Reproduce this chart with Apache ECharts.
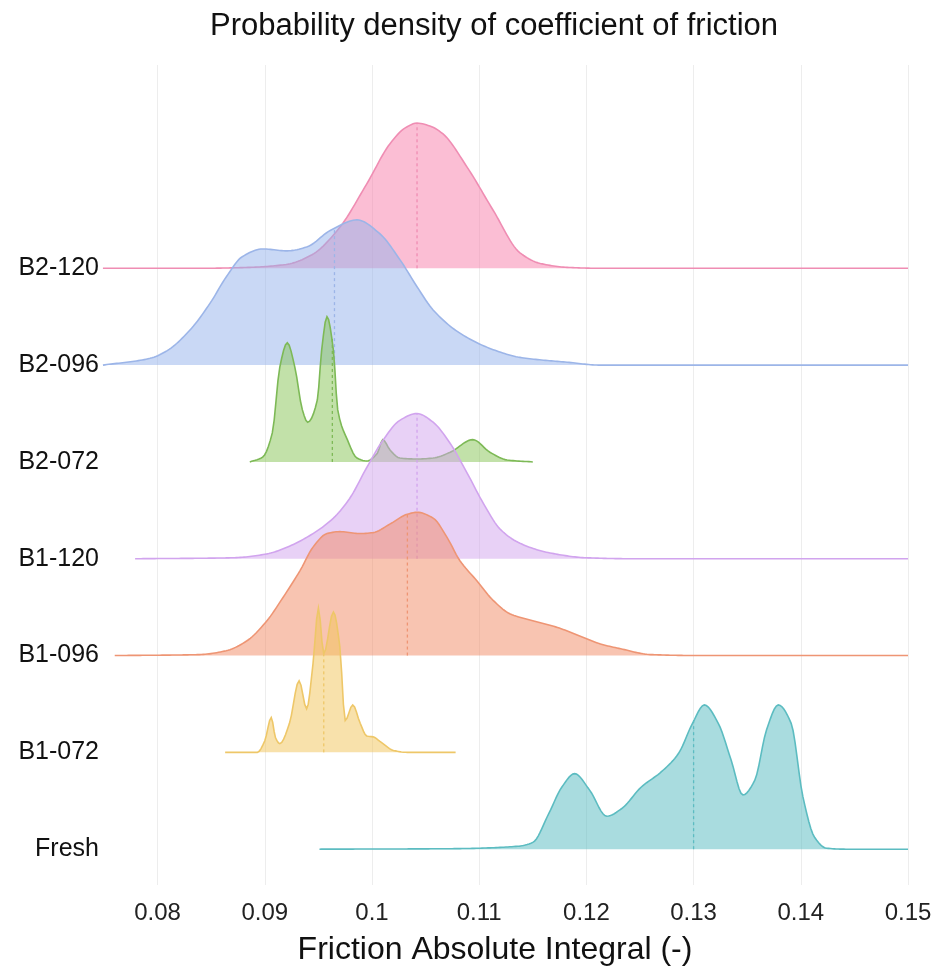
<!DOCTYPE html>
<html>
<head>
<meta charset="utf-8">
<script src="https://cdn.jsdelivr.net/npm/echarts@6/dist/echarts.min.js"></script>
<style>
html,body{margin:0;padding:0;background:#fff;}
#chart{width:938px;height:970px;}
</style>
</head>
<body>
<div id="chart"></div>
<script>
// ---- data (x = friction value, h = scaled density height in ridge units) ----
const categories = ['Fresh', 'B1-072', 'B1-096', 'B1-120', 'B2-072', 'B2-096', 'B2-120'];
const xTicks = [0.08, 0.09, 0.10, 0.11, 0.12, 0.13, 0.14, 0.15];
const xTickLabels = ['0.08', '0.09', '0.1', '0.11', '0.12', '0.13', '0.14', '0.15'];

const densB2_120 = [[0.0749,0],[0.0839,0],[0.0886,0.01],[0.0920,0.04],[0.0944,0.14],[0.0969,0.41],[0.0995,0.87],[0.1017,1.29],[0.1031,1.45],[0.1042,1.50],[0.1054,1.47],[0.1066,1.39],[0.1089,1.04],[0.1113,0.60],[0.1138,0.16],[0.1157,0.05],[0.1182,0.01],[0.1213,0],[0.15,0]];
const densB2_096 = [[0.0749,0],[0.0793,0.07],[0.0809,0.15],[0.0830,0.36],[0.0849,0.64],[0.0864,0.91],[0.0879,1.12],[0.0898,1.20],[0.0921,1.18],[0.0939,1.22],[0.0961,1.39],[0.0986,1.50],[0.1007,1.36],[0.1026,1.09],[0.1042,0.81],[0.1057,0.57],[0.1082,0.33],[0.1113,0.16],[0.1138,0.08],[0.1182,0.03],[0.1213,0],[0.15,0]];
const densB2_072 = [[0.0886,0],[0.0898,0.05],[0.0907,0.30],[0.0914,0.98],[0.0921,1.23],[0.0928,0.98],[0.0935,0.54],[0.0940,0.41],[0.0949,0.64],[0.0953,1.15],[0.0958,1.50],[0.0964,1.15],[0.0968,0.54],[0.0977,0.23],[0.0986,0.04],[0.0995,0.01],[0.1005,0.09],[0.1010,0.23],[0.1017,0.12],[0.1026,0.04],[0.1042,0.03],[0.1057,0.04],[0.1073,0.10],[0.1094,0.23],[0.1110,0.10],[0.1126,0.02],[0.1150,0]];
const densB1_120 = [[0.0779,0],[0.0870,0.01],[0.0902,0.05],[0.0923,0.13],[0.0945,0.26],[0.0964,0.42],[0.0979,0.62],[0.0995,0.94],[0.1010,1.22],[0.1026,1.43],[0.1042,1.50],[0.1057,1.41],[0.1073,1.19],[0.1089,0.88],[0.1104,0.57],[0.1120,0.30],[0.1138,0.16],[0.1166,0.06],[0.1200,0.01],[0.1243,0],[0.15,0]];
const densB1_096 = [[0.0760,0],[0.0839,0.01],[0.0864,0.05],[0.0883,0.15],[0.0902,0.36],[0.0917,0.60],[0.0933,0.88],[0.0945,1.12],[0.0958,1.26],[0.0970,1.28],[0.0989,1.26],[0.1001,1.27],[0.1017,1.36],[0.1033,1.46],[0.1042,1.48],[0.1057,1.42],[0.1070,1.22],[0.1082,0.98],[0.1098,0.77],[0.1113,0.57],[0.1129,0.43],[0.1150,0.36],[0.1173,0.29],[0.1192,0.21],[0.1213,0.12],[0.1232,0.07],[0.1260,0.01],[0.1307,0],[0.15,0]];
const densB1_072 = [[0.0863,0],[0.0893,0],[0.0900,0.12],[0.0906,0.36],[0.0910,0.15],[0.0914,0.09],[0.0923,0.30],[0.0932,0.74],[0.0939,0.45],[0.0945,0.92],[0.0950,1.49],[0.0955,1.02],[0.0964,1.45],[0.0970,1.09],[0.0975,0.33],[0.0982,0.49],[0.0989,0.30],[0.0995,0.17],[0.1001,0.16],[0.1009,0.10],[0.1020,0.02],[0.1033,0],[0.1078,0]];
const densFresh = [[0.0951,0],[0.1073,0.005],[0.1136,0.03],[0.1150,0.07],[0.1165,0.37],[0.1177,0.64],[0.1189,0.78],[0.1203,0.61],[0.1219,0.34],[0.1233,0.42],[0.1251,0.64],[0.1270,0.80],[0.1286,0.99],[0.1299,1.30],[0.1310,1.49],[0.1323,1.30],[0.1335,0.92],[0.1346,0.56],[0.1357,0.71],[0.1368,1.23],[0.1379,1.49],[0.1391,1.30],[0.1402,0.54],[0.1413,0.12],[0.1424,0.01],[0.1442,0],[0.15,0]];

const medianNames = ['Fresh', 'B1-072', 'B1-096', 'B1-120', 'B2-072', 'B2-096', 'B2-120'];
const medianValues = [0.1300, 0.0955, 0.1033, 0.1042, 0.0963, 0.0965, 0.1042];

// ---- styling (drawn top row first so lower ridges overlap) ----
const ridges = [
  { name: 'B2-120', dens: densB2_120, line: '#EF8DB3', fill: 'rgba(247,126,170,0.5)' },
  { name: 'B2-096', dens: densB2_096, line: '#9CB5E8', fill: 'rgba(148,178,236,0.5)' },
  { name: 'B2-072', dens: densB2_072, line: '#7DB956', fill: 'rgba(134,196,84,0.5)' },
  { name: 'B1-120', dens: densB1_120, line: '#D1A4EE', fill: 'rgba(210,164,238,0.5)' },
  { name: 'B1-096', dens: densB1_096, line: '#EE9574', fill: 'rgba(242,138,100,0.5)' },
  { name: 'B1-072', dens: densB1_072, line: '#EEC768', fill: 'rgba(241,195,88,0.5)' },
  { name: 'Fresh',  dens: densFresh,  line: '#5CBCC1', fill: 'rgba(84,186,192,0.5)' }
];

// Smooth (PCHIP, no overshoot) path through pixel points, for rendering only
function smoothPixels(pts) {
  const n = pts.length;
  if (n < 3) return pts.slice();
  const h = [], d = [];
  for (let i = 0; i < n - 1; i++) {
    h.push(pts[i + 1][0] - pts[i][0]);
    d.push((pts[i + 1][1] - pts[i][1]) / (h[i] || 1e-9));
  }
  const m = new Array(n).fill(0);
  m[0] = d[0]; m[n - 1] = d[n - 2];
  for (let i = 1; i < n - 1; i++) {
    if (d[i - 1] * d[i] <= 0) { m[i] = 0; }
    else {
      const w1 = 2 * h[i] + h[i - 1], w2 = h[i] + 2 * h[i - 1];
      m[i] = (w1 + w2) / (w1 / d[i - 1] + w2 / d[i]);
    }
  }
  const out = [];
  for (let i = 0; i < n - 1; i++) {
    const x0 = pts[i][0], y0 = pts[i][1], y1 = pts[i + 1][1], hh = h[i];
    const steps = Math.max(2, Math.ceil(hh / 2));
    for (let s = 0; s < steps; s++) {
      const t = s / steps, t2 = t * t, t3 = t2 * t;
      const h00 = 2 * t3 - 3 * t2 + 1, h10 = t3 - 2 * t2 + t, h01 = -2 * t3 + 3 * t2, h11 = t3 - t2;
      out.push([x0 + t * hh, h00 * y0 + h10 * hh * m[i] + h01 * y1 + h11 * hh * m[i + 1]]);
    }
  }
  out.push(pts[n - 1].slice());
  return out;
}

function makeSeries(r, idx) {
  const base = categories.indexOf(r.name);
  const med = medianValues[medianNames.indexOf(r.name)];
  return {
    type: 'custom',
    name: r.name,
    coordinateSystem: 'cartesian2d',
    silent: true,
    z: 2 + idx,
    data: [[med, base]],
    renderItem: function (params, api) {
      const pts = r.dens.map(p => api.coord([p[0], base + p[1]]));
      const curve = smoothPixels(pts);
      const b0 = api.coord([r.dens[0][0], base]);
      const b1 = api.coord([r.dens[r.dens.length - 1][0], base]);
      const poly = curve.concat([[b1[0], b1[1]], [b0[0], b0[1]]]);
      const mb = api.coord([med, base]);
      let top = curve[0];
      for (const c of curve) { if (Math.abs(c[0] - mb[0]) < Math.abs(top[0] - mb[0])) top = c; }
      return {
        type: 'group',
        children: [
          { type: 'polygon', shape: { points: poly }, style: { fill: r.fill, stroke: null } },
          { type: 'line', shape: { x1: mb[0], y1: mb[1], x2: mb[0], y2: top[1] }, style: { stroke: r.line, lineWidth: 1.3, lineDash: [3, 3] } },
          { type: 'polyline', shape: { points: curve }, style: { stroke: r.line, lineWidth: 1.6, fill: null } }
        ]
      };
    }
  };
}

const chart = echarts.init(document.getElementById('chart'), null, { renderer: 'canvas' });
chart.setOption({
  animation: false,
  backgroundColor: '#ffffff',
  graphic: [{
    type: 'text', x: 494, y: 26,
    style: { text: 'Probability density of coefficient of friction', align: 'center', verticalAlign: 'middle',
             fontFamily: 'Liberation Sans, Arial, sans-serif', fontSize: 31, fill: '#111' }
  }],
  grid: { left: 104, right: 30, top: 65, bottom: 85, containLabel: false, outerBoundsMode: 'none' },
  xAxis: {
    type: 'value', min: 0.075, max: 0.15,
    name: 'Friction Absolute Integral (-)', nameLocation: 'middle', nameGap: 49,
    nameTextStyle: { fontFamily: 'Liberation Sans, Arial, sans-serif', fontSize: 32, color: '#111', padding: [0, 22, 0, 0] },
    axisLine: { show: false },
    axisTick: { show: false, customValues: xTicks },
    axisLabel: {
      customValues: xTicks, margin: 16,
      fontFamily: 'Liberation Sans, Arial, sans-serif', fontSize: 24, color: '#222',
      formatter: v => { const i = xTicks.findIndex(t => Math.abs(t - v) < 1e-9); return i >= 0 ? xTickLabels[i] : ''; }
    },
    splitLine: { show: true, lineStyle: { color: '#EDEDED', width: 1 } }
  },
  yAxis: {
    type: 'value', min: -0.37, max: 8.1,
    axisLine: { show: false }, axisTick: { show: false },
    splitLine: { show: false },
    axisLabel: {
      customValues: [0, 1, 2, 3, 4, 5, 6], margin: 5,
      fontFamily: 'Liberation Sans, Arial, sans-serif', fontSize: 25, color: '#111',
      formatter: v => categories[Math.round(v)]
    }
  },
  series: ridges.map(makeSeries)
});
</script>
</body>
</html>
